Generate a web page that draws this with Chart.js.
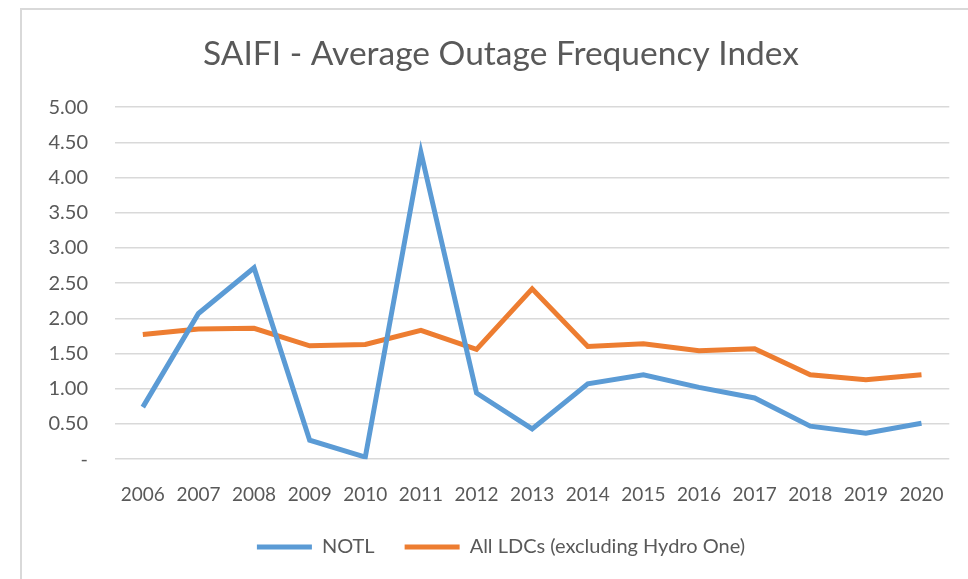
<!DOCTYPE html>
<html>
<head>
<meta charset="utf-8">
<script src="https://cdn.jsdelivr.net/npm/chart.js@4/dist/chart.umd.min.js"></script>
<style>
  html, body { margin: 0; padding: 0; background: #fff; overflow: hidden; }
  #frame { position: absolute; left: 20px; top: 8px; width: 1000px; height: 620px; border: 2px solid #D9D9D9; box-sizing: border-box; }
  #wrap { position: absolute; left: 0; top: 0; width: 968px; height: 579px; }
</style>
</head>
<body>
<div id="frame"></div>
<div id="wrap"><canvas id="c"></canvas></div>
<script>
const years = ['2006','2007','2008','2009','2010','2011','2012','2013','2014','2015','2016','2017','2018','2019','2020'];
const notl = [0.74, 2.07, 2.72, 0.27, 0.03, 4.36, 0.94, 0.43, 1.07, 1.20, 1.02, 0.87, 0.47, 0.37, 0.51];
const allLdcs = [1.77, 1.85, 1.86, 1.61, 1.63, 1.83, 1.56, 2.42, 1.60, 1.64, 1.54, 1.57, 1.20, 1.13, 1.20];
const seriesNames = ['NOTL', 'All LDCs (excluding Hydro One)'];
const chartTitle = 'SAIFI - Average Outage Frequency Index';

const FONT = 'Lato, "Open Sans", sans-serif';
const GREY = '#595959';

const legendShift = {
  id: 'legendShift',
  afterLayout(chart) {
    const l = chart.legend;
    if (l) { l.top -= 7; l.bottom -= 7; }
  }
};

new Chart(document.getElementById('c'), {
  type: 'line',
  data: {
    labels: years,
    datasets: [
      { label: seriesNames[0], data: notl, borderColor: '#5B9BD5', backgroundColor: '#5B9BD5', borderWidth: 5, pointRadius: 0, tension: 0 },
      { label: seriesNames[1], data: allLdcs, borderColor: '#ED7D31', backgroundColor: '#ED7D31', borderWidth: 5, pointRadius: 0, tension: 0 }
    ]
  },
  plugins: [legendShift],
  options: {
    responsive: true,
    maintainAspectRatio: false,
    animation: false,
    layout: { padding: { left: 48, right: 14, top: 10, bottom: 5 } },
    plugins: {
      title: {
        display: true, text: chartTitle, color: GREY,
        font: { family: FONT, size: 33.5, weight: 'normal' },
        padding: { top: 24, bottom: 33 }
      },
      legend: {
        position: 'bottom',
        labels: {
          color: GREY, font: { family: FONT, size: 20 },
          boxWidth: 55, boxHeight: 5, padding: 30,
          generateLabels: (chart) => Chart.defaults.plugins.legend.labels.generateLabels(chart).map(l => Object.assign(l, { lineWidth: 0, fillStyle: l.strokeStyle }))
        }
      },
      tooltip: { enabled: false }
    },
    scales: {
      x: {
        offset: true,
        afterFit: (s) => { s.height -= 16; },
        grid: { display: false, drawTicks: false },
        border: { display: false },
        ticks: { color: GREY, font: { family: FONT, size: 19 }, padding: 24, maxRotation: 0, autoSkip: false }
      },
      y: {
        min: 0, max: 5,
        afterFit: (s) => { s.width = 67; },
        grid: { color: '#D9D9D9', lineWidth: 1.5, drawTicks: false },
        border: { display: false },
        ticks: {
          stepSize: 0.5, color: GREY, font: { family: FONT, size: 20 }, padding: 27,
          callback: (v) => v === 0 ? '-' : Number(v).toFixed(2)
        }
      }
    }
  }
});
</script>
</body>
</html>
